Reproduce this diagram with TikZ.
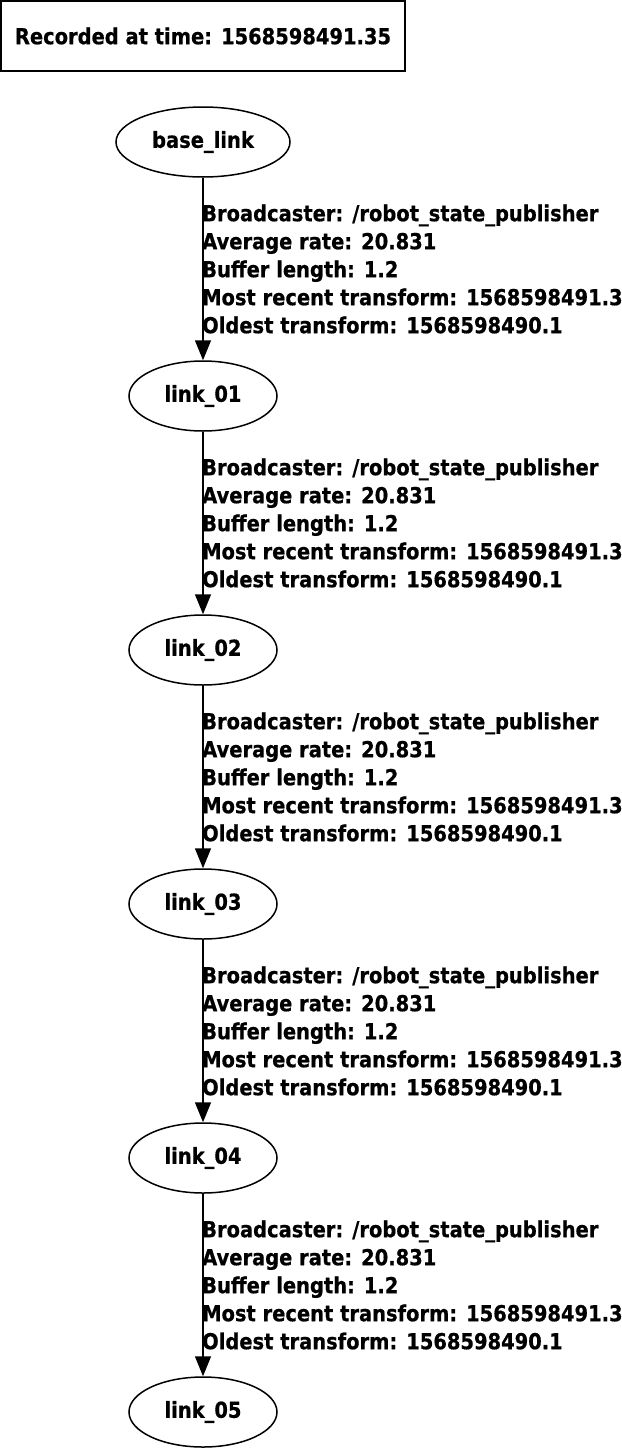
\documentclass[tikz,border=0pt]{standalone}
\usepackage{fontspec}
\setmainfont{DejaVu Sans}[BoldFont={DejaVu Sans Bold},BoldFeatures={FakeStretch=0.885,FakeBold=0.6}]
\usetikzlibrary{arrows.meta,shapes.geometric}
\begin{document}
\begin{tikzpicture}[x=1pt,y=-1pt,
  every node/.style={font=\bfseries\fontsize{22}{28}\selectfont},
  frame/.style={draw,line width=1.5pt},
  tfnode/.style={draw,ellipse,line width=1.5pt,minimum height=70pt,inner sep=0pt},
  tfedge/.style={line width=1.5pt,-{Triangle[length=20pt,width=16pt]}},
  tflabel/.style={align=left,anchor=west,inner sep=0pt}]
\useasboundingbox (0,0) rectangle (621,1448);
\node[frame,minimum width=404pt,minimum height=70pt,inner sep=0pt] (title) at (203,36) {Recorded at time: 1568598491.35};
\node[tfnode,minimum width=174pt] (base) at (203,142) {base\_link};
\node[tfnode,minimum width=148pt] (l1) at (203,396) {link\_01};
\node[tfnode,minimum width=148pt] (l2) at (203,650) {link\_02};
\node[tfnode,minimum width=148pt] (l3) at (203,904) {link\_03};
\node[tfnode,minimum width=148pt] (l4) at (203,1158) {link\_04};
\node[tfnode,minimum width=148pt] (l5) at (203,1412) {link\_05};
\foreach \a/\b/\m in {base/l1/269,l1/l2/523,l2/l3/777,l3/l4/1031,l4/l5/1285}{
  \draw[tfedge] (\a) -- (\b);
  \node[tflabel] (lab\b) at (202,\m) {Broadcaster: /robot\_state\_publisher\\Average rate: 20.831\\Buffer length: 1.2\\Most recent transform: 1568598491.3\\Oldest transform: 1568598490.1};
}
\end{tikzpicture}
\end{document}
